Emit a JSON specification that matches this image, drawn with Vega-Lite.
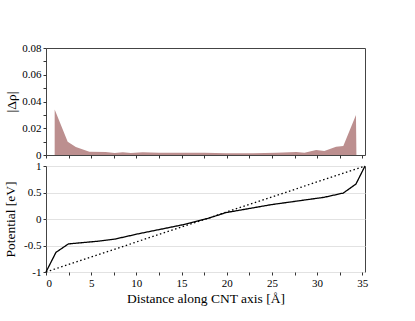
{
  "$schema": "https://vega.github.io/schema/vega-lite/v6.json",
  "background": "white",
  "padding": {"left": 3, "top": 41, "right": 5, "bottom": 5},
  "spacing": 11,
  "bounds": "flush",
  "config": {
    "font": "Liberation Serif",
    "view": {"stroke": "#444", "strokeWidth": 1},
    "axis": {
      "labelFont": "Liberation Serif",
      "titleFont": "Liberation Serif",
      "labelFontSize": 11,
      "titleFontSize": 13.5,
      "titleFontWeight": "normal",
      "labelColor": "#000",
      "titleColor": "#000",
      "domain": false,
      "tickColor": "#333",
      "tickSize": 3,
      "labelPadding": 2
    }
  },
  "vconcat": [
    {
      "width": 319,
      "height": 107,
      "data": {"values": [
        {"x": 0.96, "d": 0.034},
        {"x": 2.4, "d": 0.010},
        {"x": 3.3, "d": 0.006},
        {"x": 4.8, "d": 0.0025},
        {"x": 6.6, "d": 0.0022},
        {"x": 7.6, "d": 0.0015},
        {"x": 8.5, "d": 0.002},
        {"x": 9.4, "d": 0.0015},
        {"x": 10.7, "d": 0.002},
        {"x": 12.5, "d": 0.0017},
        {"x": 15.0, "d": 0.0017},
        {"x": 17.5, "d": 0.0016},
        {"x": 20.0, "d": 0.0013},
        {"x": 22.9, "d": 0.0013},
        {"x": 25.5, "d": 0.0017},
        {"x": 27.7, "d": 0.0022},
        {"x": 28.6, "d": 0.0017},
        {"x": 29.9, "d": 0.0037},
        {"x": 30.8, "d": 0.003},
        {"x": 32.1, "d": 0.0062},
        {"x": 32.9, "d": 0.0067},
        {"x": 34.3, "d": 0.030},
        {"x": 34.35, "d": 0.0}
      ]},
      "mark": {"type": "area", "color": "#bc8f8f", "opacity": 1},
      "encoding": {
        "x": {
          "field": "x", "type": "quantitative",
          "scale": {"domain": [0, 35.3], "nice": false, "zero": false},
          "axis": {"title": null, "labels": false, "grid": false,
                   "values": [0,2.5,5,7.5,10,12.5,15,17.5,20,22.5,25,27.5,30,32.5,35]}
        },
        "y": {
          "field": "d", "type": "quantitative",
          "scale": {"domain": [0, 0.08], "nice": false},
          "axis": {"title": "|Δρ|", "grid": false,
                   "labelFont": "Liberation Serif", "titleFont": "Liberation Serif",
                   "values": [0,0.01,0.02,0.03,0.04,0.05,0.06,0.07,0.08],
                   "labelExpr": "round(datum.value*100) % 2 === 0 ? (datum.value === 0 ? '0' : format(datum.value, '.2f')) : ''",
                   "titlePadding": 3}
        }
      }
    },
    {
      "width": 319,
      "height": 106,
      "data": {"values": [
        {"x": 0, "v": -1, "s": "calc"},
        {"x": 1.1, "v": -0.63, "s": "calc"},
        {"x": 2.48, "v": -0.47, "s": "calc"},
        {"x": 5.7, "v": -0.42, "s": "calc"},
        {"x": 7.6, "v": -0.38, "s": "calc"},
        {"x": 10.2, "v": -0.28, "s": "calc"},
        {"x": 15.1, "v": -0.11, "s": "calc"},
        {"x": 17.9, "v": 0.01, "s": "calc"},
        {"x": 19.9, "v": 0.12, "s": "calc"},
        {"x": 24.9, "v": 0.27, "s": "calc"},
        {"x": 30.8, "v": 0.41, "s": "calc"},
        {"x": 32.9, "v": 0.49, "s": "calc"},
        {"x": 34.3, "v": 0.66, "s": "calc"},
        {"x": 35.3, "v": 1, "s": "calc"},
        {"x": 0, "v": -1, "s": "linear"},
        {"x": 35.3, "v": 1, "s": "linear"}
      ]},
      "mark": {"type": "line", "color": "#000", "strokeWidth": 1.3},
      "encoding": {
        "x": {
          "field": "x", "type": "quantitative",
          "scale": {"domain": [0, 35.3], "nice": false, "zero": false},
          "axis": {"title": "Distance along CNT axis [Å]", "grid": false,
                   "labelFont": "Liberation Serif", "titleFont": "Liberation Serif",
                   "values": [0,2.5,5,7.5,10,12.5,15,17.5,20,22.5,25,27.5,30,32.5,35],
                   "labelExpr": "datum.value % 5 === 0 ? '' + datum.value : ''",
                   "titlePadding": 3}
        },
        "y": {
          "field": "v", "type": "quantitative",
          "scale": {"domain": [-1, 1], "nice": false},
          "axis": {"title": "Potential [eV]", "grid": true, "gridColor": "#e2e2e2",
                   "labelFont": "Liberation Serif", "titleFont": "Liberation Serif",
                   "values": [-1,-0.5,0,0.5,1],
                   "labelExpr": "'' + datum.value",
                   "titlePadding": 6}
        },
        "strokeDash": {
          "field": "s", "type": "nominal",
          "scale": {"domain": ["calc", "linear"], "range": [[1, 0], [1.5, 2.5]]},
          "legend": null
        },
        "strokeWidth": {
          "field": "s", "type": "nominal",
          "scale": {"domain": ["calc", "linear"], "range": [1.4, 1.1]},
          "legend": null
        }
      }
    }
  ]
}
